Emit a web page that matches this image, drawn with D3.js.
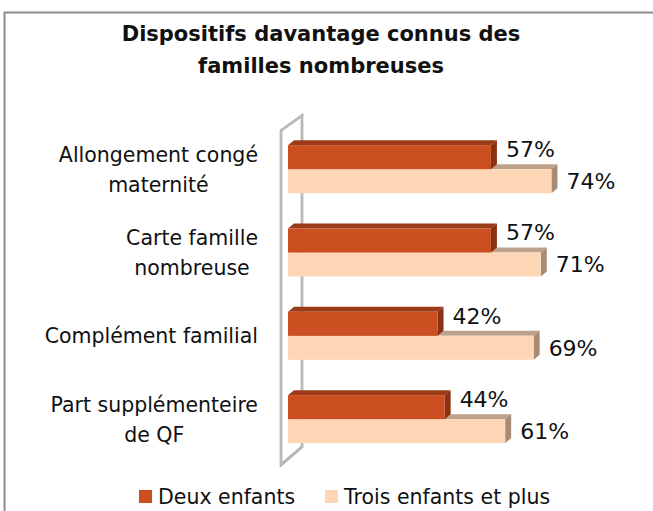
<!DOCTYPE html>
<html>
<head>
    <meta charset="utf-8">
    <script src="https://cdnjs.cloudflare.com/ajax/libs/d3/7.8.5/d3.min.js"></script>
    <style>
        body { margin: 0; background: #fff; }
        svg text { font-family: "DejaVu Sans", sans-serif; fill: #111; }
    </style>
</head>
<body>
    <svg id="chart" width="653" height="511"></svg>

    <script>
        const categories = [
            ["Allongement congé", "maternité"],
            ["Carte famille", "nombreuse"],
            ["Complément familial"],
            ["Part supplémenteire", "de QF"]
        ];
        const seriesNames = ["Deux enfants", "Trois enfants et plus"];
        const deuxEnfants = [57, 57, 42, 44];
        const troisEnfants = [74, 71, 69, 61];

        const colors = {
            "Deux enfants": { front: "#cc4f22", top: "#9b3b17", side: "#8a3212" },
            "Trois enfants et plus": { front: "#fdd6b6", top: "#bea18b", side: "#a88b77" }
        };

        const svg = d3.select("#chart");
        const catKeys = categories.map(c => c.join(" "));
        const values = { "Deux enfants": deuxEnfants, "Trois enfants et plus": troisEnfants };

        // frame
        svg.append("rect")
            .attr("x", 4.5).attr("y", 12.5)
            .attr("width", 700).attr("height", 600)
            .attr("fill", "none")
            .attr("stroke", "#8c8c8c")
            .attr("stroke-width", 2);

        // title
        const title = svg.append("text")
            .attr("text-anchor", "middle")
            .style("font-weight", "bold")
            .style("font-size", "21px");
        title.append("tspan").attr("x", 321).attr("y", 41).text("Dispositifs davantage connus des");
        title.append("tspan").attr("x", 321).attr("y", 73).text("familles nombreuses");

        const x = d3.scaleLinear().domain([0, 100]).range([288, 644]);
        const y = d3.scaleBand().domain(catKeys).range([127.5, 460.8])
            .paddingInner(0.424).paddingOuter(0.212);
        const ySub = d3.scaleBand().domain(seriesNames).range([0, y.bandwidth()]);

        const dx = 6, dy = 5;

        // back wall (3D floor on the left)
        const wx0 = x(0) - 7, wx1 = x(0) + 14;
        const wy0 = y.range()[0] + 3, wy1 = y.range()[1] + 4;
        const wall = `M${wx0},${wy0} L${wx1},${wy0 - 15} L${wx1},${wy1 - 18} L${wx0},${wy1} Z`;
        svg.append("path")
            .attr("d", wall)
            .attr("fill", "none")
            .attr("stroke", "#a0a0a0")
            .attr("stroke-width", 2.6);
        svg.append("path")
            .attr("d", wall)
            .attr("fill", "none")
            .attr("stroke", "#e8e8e8")
            .attr("stroke-width", 0.7);

        // bars: light series first so the dark one sits on top
        const drawOrder = ["Trois enfants et plus", "Deux enfants"];
        catKeys.forEach((cat, i) => {
            drawOrder.forEach(s => {
                const v = values[s][i];
                const x0 = x(0), x1 = x(v);
                const y0 = y(cat) + ySub(s), h = ySub.bandwidth();
                const g = svg.append("g");
                g.append("path")
                    .attr("d", `M${x0},${y0} L${x0 + dx},${y0 - dy} L${x1 + dx},${y0 - dy} L${x1},${y0} Z`)
                    .attr("fill", colors[s].top);
                g.append("path")
                    .attr("d", `M${x1},${y0} L${x1 + dx},${y0 - dy} L${x1 + dx},${y0 + h - dy} L${x1},${y0 + h} Z`)
                    .attr("fill", colors[s].side);
                g.append("rect")
                    .attr("x", x0).attr("y", y0)
                    .attr("width", x1 - x0).attr("height", h)
                    .attr("fill", colors[s].front);
            });
        });

        // data labels
        catKeys.forEach((cat, i) => {
            seriesNames.forEach(s => {
                const v = values[s][i];
                const cy = y(cat) + ySub(s) + ySub.bandwidth() / 2 + (s === "Deux enfants" ? -8 : 0);
                svg.append("text")
                    .attr("x", x(v) + dx + 9)
                    .attr("y", cy)
                    .attr("dy", "0.36em")
                    .style("font-size", "22px")
                    .text(v + "%");
            });
        });

        // category labels, block right aligned, lines centered
        categories.forEach((lines, i) => {
            const cy = y(catKeys[i]) + y.bandwidth() / 2;
            const t = svg.append("text")
                .attr("text-anchor", "middle")
                .style("font-size", "20.5px");
            const lh = 30;
            lines.forEach((line, j) => {
                t.append("tspan")
                    .attr("y", cy + (j - (lines.length - 1) / 2) * lh)
                    .attr("dy", "0.36em")
                    .text(line);
            });
            const maxW = d3.max(t.selectAll("tspan").nodes(), n => n.getComputedTextLength());
            t.selectAll("tspan").attr("x", 258 - maxW / 2);
        });

        // legend
        const legendX = [139, 325];
        seriesNames.forEach((s, i) => {
            svg.append("rect")
                .attr("x", legendX[i]).attr("y", 490)
                .attr("width", 13).attr("height", 13)
                .attr("fill", colors[s].front);
            svg.append("text")
                .attr("x", legendX[i] + 19)
                .attr("y", 497)
                .attr("dy", "0.36em")
                .style("font-size", "20.5px")
                .text(s);
        });
    </script>
</body>
</html>
